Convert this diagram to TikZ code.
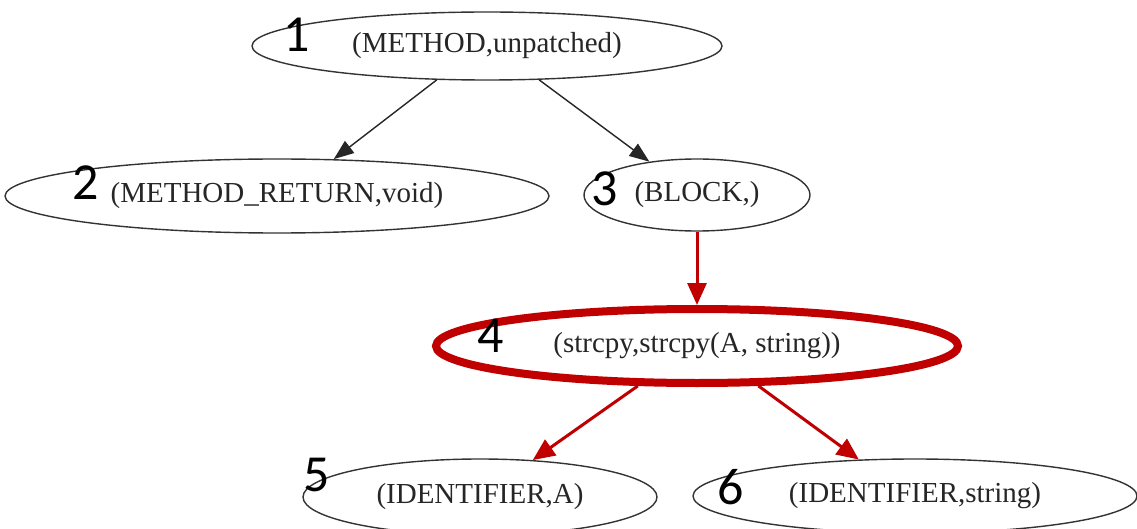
\documentclass[tikz,border=0pt]{standalone}
\usepackage{fontspec}
\setmainfont{Liberation Serif}
\newfontfamily\numfont{Carlito}
\usetikzlibrary{shapes.geometric,arrows.meta}
\definecolor{darkred}{HTML}{C00000}
\begin{document}
\begin{tikzpicture}[x=1pt,y=-1pt,
  graphnode/.style={ellipse, draw=black!80, line width=1.4pt, inner sep=0pt,
    font=\fontsize{29}{34}\selectfont, text=black!85},
  hotnode/.style={graphnode, draw=darkred, line width=8pt, outer sep=4pt},
  numlabel/.style={font=\numfont\fontsize{52}{60}\selectfont, inner sep=0pt},
  blackedge/.style={-{Triangle[length=20pt,width=15pt]}, line width=1.4pt, draw=black!85, fill=black!85},
  rededge/.style={-{Triangle[length=22pt,width=19pt]}, line width=3pt, draw=darkred, fill=darkred},
]
\fill[white] (0,0) rectangle (1137,529);
\useasboundingbox (0,0) rectangle (1137,529);

\node[graphnode, minimum width=470pt, minimum height=68pt] (n1) at (487,46) {(METHOD,unpatched)};
\node[graphnode, minimum width=544pt, minimum height=74pt] (n2) at (277,196) {(METHOD\_RETURN,void)};
\node[graphnode, minimum width=226pt, minimum height=72pt] (n3) at (697,195) {(BLOCK,)};
\node[hotnode, minimum width=522pt, minimum height=74pt] (n4) at (697,346) {(strcpy,strcpy(A, string))};
\node[graphnode, minimum width=354pt, minimum height=76pt] (n5) at (480,497) {(IDENTIFIER,A)};
\node[graphnode, minimum width=444pt, minimum height=74pt] (n6) at (915,496) {(IDENTIFIER,string)};

\node[numlabel] (l1) at (297,35) {1};
\node[numlabel] (l2) at (86,183) {2};
\node[numlabel] (l3) at (605,189) {3};
\node[numlabel] (l4) at (491,336) {4};
\node[numlabel] (l5) at (317,475) {5};
\node[numlabel] (l6) at (731,487) {6};

\draw[blackedge] (n1.214) -- (n2.33);
\draw[blackedge] (n1.327) -- (n3.145);
\draw[rededge] (n3.south) -- (n4.north);
\draw[rededge] (n4.214) -- (n5.35);
\draw[rededge] (n4.327) -- (n6.147);
\end{tikzpicture}
\end{document}
